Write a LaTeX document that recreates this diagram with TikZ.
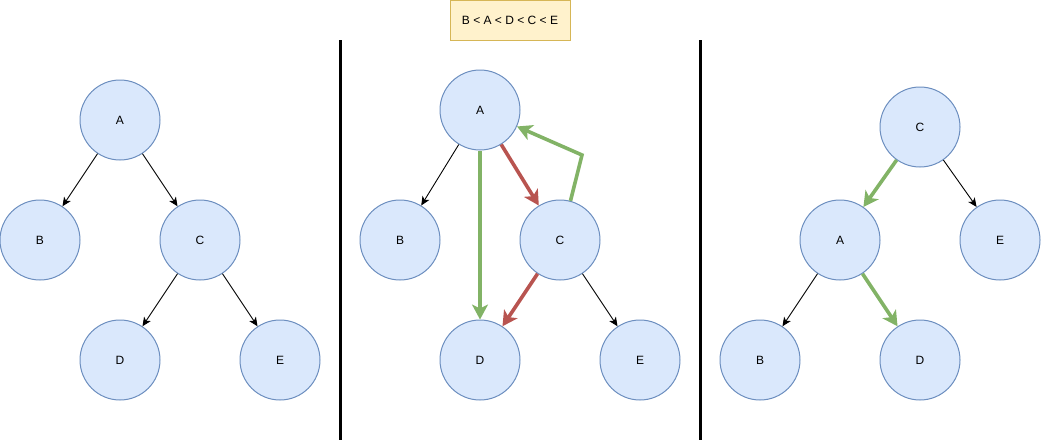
\documentclass[tikz,border=0pt]{standalone}
\usepackage{fontspec}
\setmainfont{Liberation Sans}
\usetikzlibrary{arrows.meta}
\definecolor{nodefill}{HTML}{DAE8FC}
\definecolor{nodeline}{HTML}{6C8EBF}
\definecolor{okgreen}{HTML}{82B366}
\definecolor{badred}{HTML}{B85450}
\definecolor{notefill}{HTML}{FFF2CC}
\definecolor{noteline}{HTML}{D6B656}
\begin{document}
\begin{tikzpicture}[x=1pt,y=-1pt,
  vert/.style={circle,draw=nodeline,fill=nodefill,line width=1pt,minimum size=80pt,inner sep=0pt,font=\fontsize{12}{14}\selectfont},
  thin/.style={draw=black,line width=0.9pt,-{Stealth[length=9pt,width=8pt,inset=2.5pt]}},
  thickg/.style={draw=okgreen,line width=3.6pt,line join=miter,-{Stealth[length=15pt,width=16pt,inset=4pt]}},
  thickr/.style={draw=badred,line width=3.6pt,-{Stealth[length=15pt,width=16pt,inset=4pt]}},
  divider/.style={line width=3pt,draw=black},
  note/.style={draw=noteline,fill=notefill,line width=1pt,minimum width=120pt,minimum height=40pt,inner sep=0pt,font=\fontsize{12}{14}\selectfont}]
\useasboundingbox (0,0) rectangle (1041,445);
% note
\node[note] (order) at (510,20) {B < A < D < C < E};
% dividers
\coordinate (d1t) at (340,40); \coordinate (d1b) at (340,440);
\coordinate (d2t) at (700,40); \coordinate (d2b) at (700,440);
\draw[divider] (d1t) -- (d1b);
\draw[divider] (d2t) -- (d2b);
% left panel
\node[vert] (lA) at (120,120) {A};
\node[vert] (lB) at (40,240) {B};
\node[vert] (lC) at (200,240) {C};
\node[vert] (lD) at (120,360) {D};
\node[vert] (lE) at (280,360) {E};
\draw[thin] (lA) -- (lB);
\draw[thin] (lA) -- (lC);
\draw[thin] (lC) -- (lD);
\draw[thin] (lC) -- (lE);
% middle panel
\node[vert] (mA) at (480,110) {A};
\node[vert] (mB) at (400,240) {B};
\node[vert] (mC) at (560,240) {C};
\node[vert] (mD) at (480,360) {D};
\node[vert] (mE) at (640,360) {E};
\draw[thin] (mA) -- (mB);
\draw[thin] (mC) -- (mE);
\draw[thickg] (mA) -- (mD);
\draw[thickr] (mA) -- (mC);
\draw[thickr] (mC) -- (mD);
\coordinate (mbend) at (582,155);
\draw[thickg] (mC.75.6) -- (mbend) -- (mA.-24);
% right panel
\node[vert] (rC) at (920,127) {C};
\node[vert] (rA) at (840,240) {A};
\node[vert] (rE) at (1000,240) {E};
\node[vert] (rB) at (760,360) {B};
\node[vert] (rD) at (920,360) {D};
\draw[thickg] (rC) -- (rA);
\draw[thin] (rC) -- (rE);
\draw[thin] (rA) -- (rB);
\draw[thickg] (rA) -- (rD);
\end{tikzpicture}
\end{document}
